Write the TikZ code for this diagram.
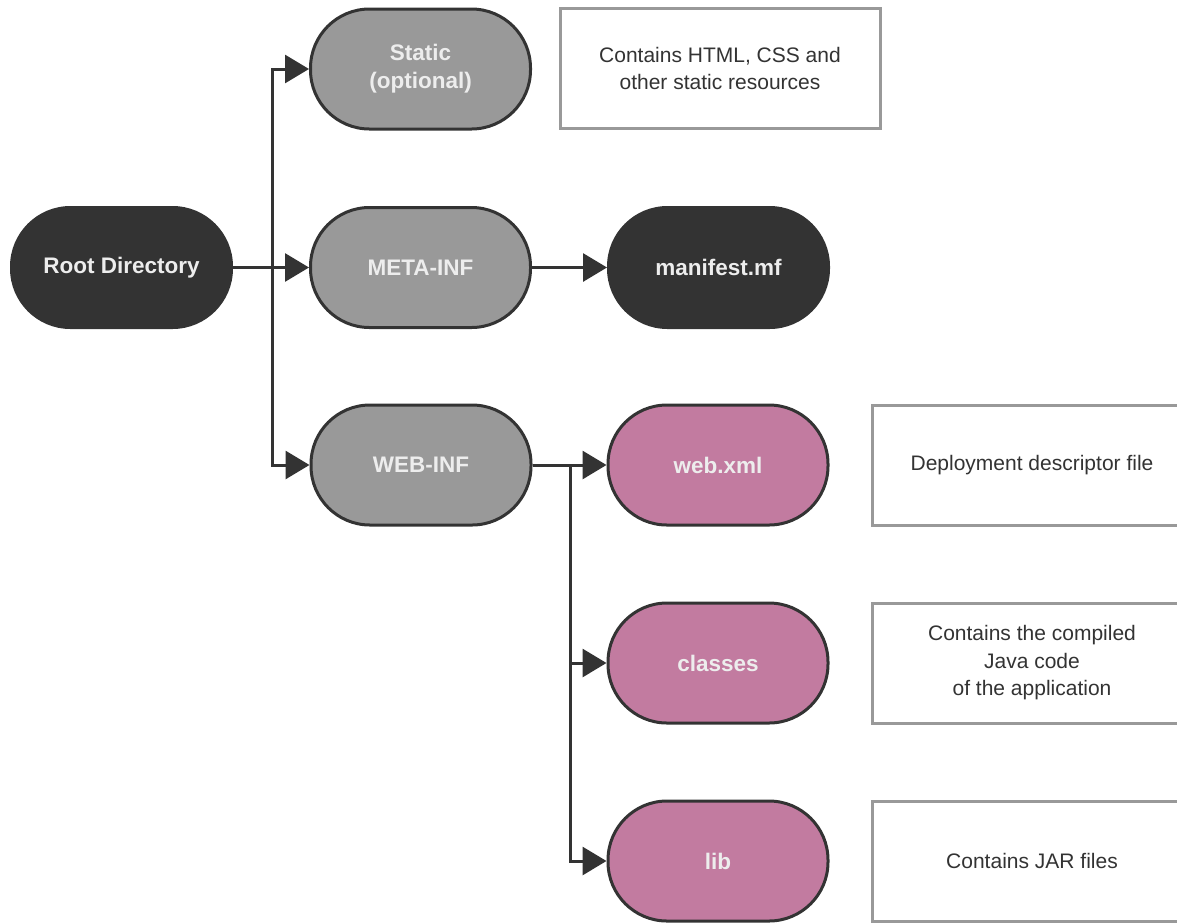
\documentclass[tikz,border=0pt]{standalone}
\usepackage{fontspec}
\setmainfont{Liberation Sans}
\usetikzlibrary{arrows.meta}
\definecolor{dirdark}{HTML}{333333}
\definecolor{dirgray}{HTML}{999999}
\definecolor{dirpink}{HTML}{C27BA0}
\definecolor{notegray}{HTML}{999999}

\begin{document}
\begin{tikzpicture}[x=1pt,y=-1pt,
    dirbox/.style={draw=dirdark,line width=3pt,rounded corners=59pt,minimum width=220pt,minimum height=120pt,inner sep=0pt,align=center,text=white!93!black,font=\fontsize{22.5}{28}\selectfont\bfseries},
    rootdir/.style={dirbox,fill=dirdark},
    subdir/.style={dirbox,fill=dirgray},
    filedir/.style={dirbox,fill=dirpink},
    notebox/.style={draw=notegray,line width=3pt,fill=white,minimum width=320pt,minimum height=120pt,inner sep=0pt,align=center,text=dirdark,font=\fontsize{21}{27.5}\selectfont},
    conn/.style={draw=dirdark,line width=3pt,-{Triangle[length=24pt,width=28pt]}}]
    \useasboundingbox (0,0) rectangle (1177,922);
    \clip (0,0) rectangle (1177,922);

    \node[rootdir] (root) at (121.5,267.5) {Root Directory};
    \node[subdir] (static) at (420.5,69) {Static\\(optional)};
    \node[subdir] (meta) at (420.5,267.5) {META-INF};
    \node[subdir] (web) at (421,465) {WEB-INF};
    \node[rootdir] (manifest) at (718.5,267.5) {manifest.mf};
    \node[filedir] (webxml) at (718,465) {web.xml};
    \node[filedir] (classes) at (718,663) {classes};
    \node[filedir] (lib) at (718,861) {lib};

    \node[notebox] (staticnote) at (720,68.5) {Contains HTML, CSS and\\ other static resources};
    \node[notebox] (webxmlnote) at (1032,465) {Deployment descriptor file};
    \node[notebox] (classesnote) at (1032,663) {Contains the compiled\\Java code\\of the application};
    \node[notebox] (libnote) at (1032,861) {Contains JAR files};

    \coordinate (rootfork) at (272,267.5);
    \coordinate (webfork) at (570,465);

    \draw[conn] (root.east) -- (rootfork) |- (static.west);
    \draw[conn] (root.east) -- (rootfork) |- (web.west);
    \draw[conn] (root) -- (meta);
    \draw[conn] (meta) -- (manifest);
    \draw[conn] (web) -- (webxml);
    \draw[conn] (web.east) -- (webfork) |- (classes.west);
    \draw[conn] (web.east) -- (webfork) |- (lib.west);
  \end{tikzpicture}
\end{document}
